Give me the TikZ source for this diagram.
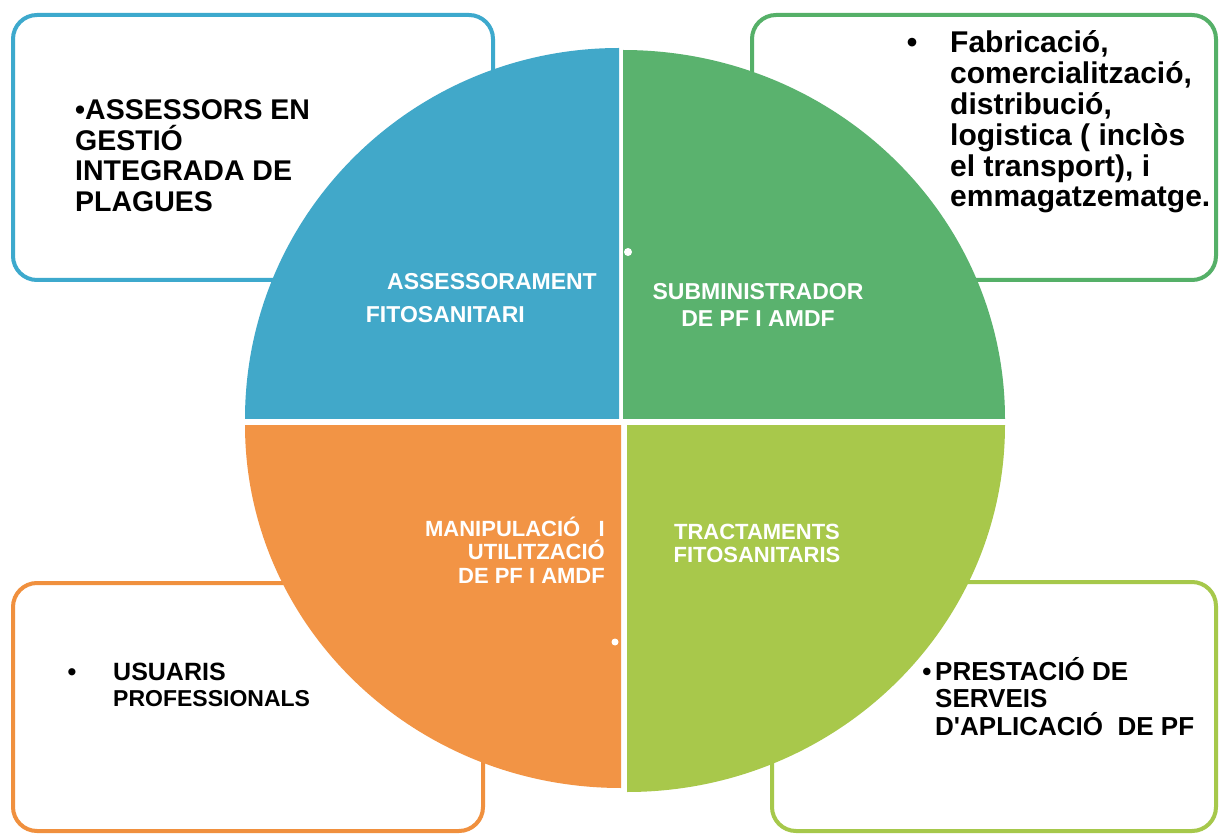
\documentclass[tikz,border=0pt]{standalone}
\usepackage{fontspec}
\setmainfont{Liberation Sans}[Ligatures=TeXOff]
\definecolor{qblue}{HTML}{41A8C9}
\definecolor{qgreen}{HTML}{5AB26E}
\definecolor{qorange}{HTML}{F29445}
\definecolor{qlime}{HTML}{A8C84B}
\definecolor{bblue}{HTML}{3DA9CD}
\definecolor{bgreen}{HTML}{55B068}
\definecolor{borange}{HTML}{F0903E}
\definecolor{blime}{HTML}{A6C84B}
\begin{document}
\begin{tikzpicture}[x=1pt,y=-1pt,
  frame/.style={line width=4pt, rounded corners=24pt},
  intext/.style={text=white, inner sep=0pt, font=\fontsize{23}{27}\selectfont\bfseries},
  intextsmall/.style={text=white, inner sep=0pt, font=\fontsize{22}{23.5}\selectfont\bfseries},
  outtext/.style={text=black, inner sep=0pt, font=\fontsize{28.5}{30.5}\selectfont\bfseries},
  outbig/.style={text=black, inner sep=0pt, font=\fontsize{30}{30.8}\selectfont\bfseries},
  outmid/.style={text=black, inner sep=0pt, font=\fontsize{26}{27.5}\selectfont\bfseries},
  outuser/.style={text=black, inner sep=0pt, font=\fontsize{25}{26}\selectfont\bfseries},
  outsmall/.style={text=black, inner sep=0pt, font=\fontsize{23}{26}\selectfont\bfseries}]
\useasboundingbox (0,0) rectangle (1219,834);
\fill[white] (0,0) rectangle (1219,834);
% outer boxes
\draw[frame, bblue] (13,15) rectangle (493,280);
\draw[frame, bgreen] (752,15) rectangle (1216,280);
\draw[frame, borange] (13,583) rectangle (483,831);
\draw[frame, blime] (772,582) rectangle (1216,831);
% quadrants
\fill[qblue] (619,419) -- (245,419) arc[start angle=180, end angle=270, x radius=374, y radius=371] -- cycle;
\fill[qgreen] (623,419) -- (623,50) arc[start angle=270, end angle=360, x radius=382, y radius=369] -- cycle;
\fill[qorange] (621,425) -- (621,788) arc[start angle=90, end angle=180, x radius=376, y radius=363] -- cycle;
\fill[qlime] (627,425) -- (1005,425) arc[start angle=0, end angle=90, x radius=378, y radius=367] -- cycle;
\fill[white] (628,252) circle (4);
\fill[white] (615,642) circle (3.5);
% circle labels (base anchor = baseline of last line)
\node[intext, anchor=base west] (ass1) at (387,290) {ASSESSORAMENT};
\node[intext, anchor=base east] (ass2) at (525,323) {FITOSANITARI};
\node[intext, anchor=base, align=center] (sub) at (758,327) {SUBMINISTRADOR\\DE PF I AMDF};
\node[intextsmall, anchor=base east, align=right] (man) at (605,583) {MANIPULACIÓ~~~I\\UTILITZACIÓ\\DE PF I AMDF};
\node[intextsmall, anchor=base, align=center] (tra) at (757,562.5) {TRACTAMENTS\\FITOSANITARIS};
% box texts
\node[outtext, anchor=base west, align=left] (tl) at (75,211.5) {•ASSESSORS EN\\GESTIÓ\\INTEGRADA DE\\PLAGUES};
\node[outbig, anchor=base] (trb) at (912,53) {•};
\node[outbig, anchor=base west, align=left] (tr) at (950,207) {Fabricació,\\comercialització,\\distribució,\\logistica ( inclòs\\el transport), i\\emmagatzematge.};
\node[outuser, anchor=base] (blb) at (72,680) {•};
\node[outuser, anchor=base west] (bl1) at (113,680) {USUARIS};
\node[outsmall, anchor=base west] (bl2) at (113,706) {PROFESSIONALS};
\node[outmid, anchor=base] (brb) at (927,680) {•};
\node[outmid, anchor=base west, align=left] (br) at (935,735) {PRESTACIÓ DE\\SERVEIS\\D'APLICACIÓ~~DE PF};
\end{tikzpicture}
\end{document}
